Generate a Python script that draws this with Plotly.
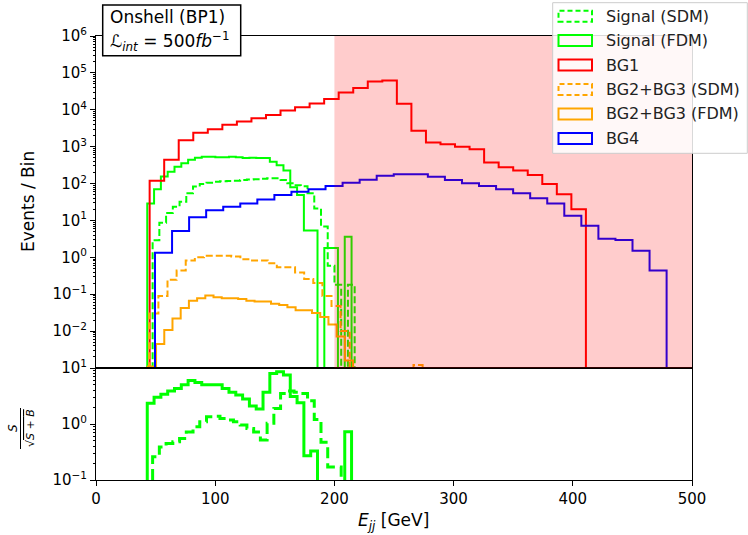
import numpy as np
import plotly.graph_objects as go

# ---------------- data (30 bins per histogram, own range each) ----------------
N_BINS = 30

sig_sdm_range = (47.5, 217.0)
sig_sdm = [2.9, 8.7, 16, 23.5, 32, 55, 83, 98, 105, 112, 115, 118, 120, 125, 128,
           130, 135, 139, 139, 125, 102, 90, 85, 55, 21, 6.8, 0.59, 0.18, 0, 0.18]

sig_fdm_range = (43.0, 214.4)
sig_fdm = [29, 70, 155, 210, 285, 355, 440, 500, 535, 535, 515, 515, 535, 515, 490,
           500, 490, 490, 390, 315, 225, 80, 49, 5.3, 5.3, 0, 1.8, 1.8, 0, 3.6]

bg1_range = (45.0, 411.0)
bg1 = [120, 440, 1500, 2400, 2950, 3900, 4800, 5900, 7200, 9600,
       11800, 14800, 19500, 29500, 39000, 58000, 62000, 14500, 2700, 1300,
       1170, 1000, 850, 370, 275, 225, 170, 98, 51, 20]

bg23_sdm_range = (44.7, 274.0)
bg23_sdm = [0.03, 0.089, 0.245, 0.44, 0.82, 1.0, 1.1, 1.1, 1.1, 1.05, 0.89, 0.82, 0.82,
            0.69, 0.54, 0.54, 0.39, 0.26, 0.20, 0.089, 0.048, 0.010, 0, 0, 0, 0, 0, 0,
            0, 0.0012]

bg23_fdm_range = (43.5, 250.1)
bg23_fdm = [0.0011, 0.0045, 0.0107, 0.022, 0.042, 0.067, 0.078, 0.092, 0.083, 0.078,
            0.078, 0.074, 0.067, 0.063, 0.063, 0.055, 0.051, 0.044, 0.037, 0.037,
            0.031, 0.024, 0.015, 0.0071, 0.0016, 0, 0, 0, 0, 0]

bg4_range = (49.5, 478.7)
bg4 = [1.34, 5.2, 12.2, 19, 23.5, 29, 37, 49, 60, 70, 86, 105, 127, 163, 178, 178,
       154, 125, 102, 86, 70, 55, 40, 29, 13.5, 7.2, 3.2, 2.96, 1.5, 0.44]

# S / sqrt(S+B) (signal binning)
ratio_sdm = [0.26, 0.39, 0.45, 0.48, 0.55, 0.72, 0.89, 1.1, 1.35, 1.38, 1.26, 1.18, 1.1,
             0.96, 0.83, 0.72, 0.52, 1.03, 1.9, 3.5, 3.9, 3.7, 3.5, 2.6, 1.2, 0.47,
             0.17, 0.17, 0, 0]
ratio_fdm = [2.35, 3.0, 3.4, 3.9, 4.3, 5.0, 6.0, 5.5, 5.0, 5.0, 5.0, 4.3, 3.7, 3.3, 2.8,
             2.1, 1.85, 3.7, 8.0, 8.6, 7.5, 3.1, 2.4, 0.27, 0.33, 0, 0.05, 0.05, 0, 0.73]

x_ticks = [0, 100, 200, 300, 400, 500]
top_decades = [-2, -1, 0, 1, 2, 3, 4, 5, 6]
bot_decades = [-1, 0, 1]
span_range = (200, 500)

legend_labels = ["Signal (SDM)", "Signal (FDM)", "BG1", "BG2+BG3 (SDM)",
                 "BG2+BG3 (FDM)", "BG4"]
legend_colors = ["#00ff00", "#00ff00", "#ff0000", "#ffa500", "#ffa500", "#0000ff"]
legend_dashed = [True, False, False, True, False, False]

# ---------------- helpers ----------------
FLOOR = 1e-9
FONT = "DejaVu Sans"


def step_xy(rng, vals):
    e = np.linspace(rng[0], rng[1], N_BINS + 1)
    v = [x if x > 0 else FLOOR for x in vals]
    xs = [e[0]] + list(e[:-1]) + [e[-1]]
    ys = [FLOOR] + v + [FLOOR]
    return xs, ys


def sup(d):
    s = str(d).replace("-", "\u2212")
    return "10<sup>" + s + "</sup>"


fig = go.Figure()

DASH_TOP = "7px,3px"
DASH_BOT = "11px,5px"

top_series = [
    (sig_sdm_range, sig_sdm, "#00ff00", DASH_TOP),
    (sig_fdm_range, sig_fdm, "#00ff00", None),
    (bg1_range, bg1, "#ff0000", None),
    (bg23_sdm_range, bg23_sdm, "#ffa500", DASH_TOP),
    (bg23_fdm_range, bg23_fdm, "#ffa500", None),
    (bg4_range, bg4, "#0000ff", None),
]
for rng, vals, col, dash in top_series:
    xs, ys = step_xy(rng, vals)
    line = dict(color=col, width=2, shape="hv")
    if dash:
        line["dash"] = dash
    fig.add_trace(go.Scatter(x=xs, y=ys, mode="lines", line=line,
                             showlegend=False, hoverinfo="skip",
                             xaxis="x", yaxis="y"))

for rng, vals, dash in [(sig_sdm_range, ratio_sdm, DASH_BOT), (sig_fdm_range, ratio_fdm, None)]:
    xs, ys = step_xy(rng, vals)
    line = dict(color="#00ff00", width=3, shape="hv")
    if dash:
        line["dash"] = dash
    fig.add_trace(go.Scatter(x=xs, y=ys, mode="lines", line=line,
                             showlegend=False, hoverinfo="skip",
                             xaxis="x2", yaxis="y2"))

# ---------------- layout ----------------
W, H = 748, 535
L, R, T, B = 96, 56, 36, 55
PW, PH = W - L - R, H - T - B
split = (480 - 368) / PH


def px(xp):
    return (xp - L) / PW


def py(yp):
    return (H - B - yp) / PH


tick_font = dict(family=FONT, size=15, color="black")
top_minor = [m * 10.0 ** d for d in range(-3, 6) for m in range(2, 10)]
bot_minor = [m * 10.0 ** d for d in range(-1, 1) for m in range(2, 10)]

axis_common = dict(showline=True, linecolor="black", linewidth=1, mirror=True,
                   showgrid=False, zeroline=False)

fig.update_layout(
    width=W, height=H,
    margin=dict(l=L, r=R, t=T, b=B),
    paper_bgcolor="white", plot_bgcolor="white",
    showlegend=False,
    xaxis=dict(domain=[0, 1], range=[0, 500], anchor="y", ticks="",
               showticklabels=False, **axis_common),
    yaxis=dict(domain=[split, 1], type="log", range=[-3, 6], anchor="x",
               tickmode="array", tickvals=[10.0 ** d for d in top_decades],
               ticktext=[sup(d) for d in top_decades],
               ticks="outside", ticklen=5, tickwidth=1, tickcolor="black",
               tickfont=tick_font,
               minor=dict(tickmode="array", tickvals=top_minor, ticks="outside",
                          ticklen=2.5, tickwidth=0.8, tickcolor="black"),
               **axis_common),
    xaxis2=dict(domain=[0, 1], range=[0, 500], anchor="y2", matches="x",
                tickmode="array", tickvals=x_ticks, ticktext=[str(v) for v in x_ticks],
                ticks="outside", ticklen=5, tickwidth=1, tickcolor="black",
                tickfont=tick_font, **axis_common),
    yaxis2=dict(domain=[0, split], type="log", range=[-1, 1], anchor="x2",
                tickmode="array", tickvals=[10.0 ** d for d in bot_decades],
                ticktext=[sup(d) for d in bot_decades],
                ticks="outside", ticklen=5, tickwidth=1, tickcolor="black",
                tickfont=tick_font,
                minor=dict(tickmode="array", tickvals=bot_minor, ticks="outside",
                           ticklen=2.5, tickwidth=0.8, tickcolor="black"),
                **axis_common),
)

shapes = []
# shaded signal region (drawn above the lines like the original)
shapes.append(dict(type="rect", xref="x", yref="y domain", x0=span_range[0], x1=span_range[1],
                   y0=0, y1=1, fillcolor="rgba(255,0,0,0.2)", line=dict(width=0),
                   layer="above"))
# title box
shapes.append(dict(type="rect", xref="paper", yref="paper",
                   x0=px(102.7), x1=px(240.7), y0=py(55.7), y1=py(5),
                   fillcolor="white", line=dict(color="black", width=1.5), layer="above"))
# legend frame
shapes.append(dict(type="rect", xref="paper", yref="paper",
                   x0=px(552.7), x1=px(747.3), y0=py(153.3), y1=py(2.7),
                   fillcolor="rgba(255,255,255,0.85)", line=dict(color="#cccccc", width=1),
                   layer="above"))
row_y = [16.2, 40.5, 65.0, 89.5, 114.0, 138.5]
for yy, col, dsh in zip(row_y, legend_colors, legend_dashed):
    ln = dict(color=col, width=2)
    if dsh:
        ln["dash"] = "5px,3px"
    shapes.append(dict(type="rect", xref="paper", yref="paper",
                       x0=px(558.5), x1=px(592.0), y0=py(yy + 5.5), y1=py(yy - 5.5),
                       fillcolor="rgba(0,0,0,0)", line=ln, layer="above"))
# fraction bar of the lower y-label
shapes.append(dict(type="line", xref="paper", yref="paper",
                   x0=px(20.5), x1=px(20.5), y0=py(449), y1=py(408),
                   line=dict(color="black", width=1), layer="above"))
fig.update_layout(shapes=shapes)

ann = []
for yy, lab in zip(row_y, legend_labels):
    ann.append(dict(xref="paper", yref="paper", x=px(604), y=py(yy), text=lab,
                    showarrow=False, xanchor="left", yanchor="middle",
                    font=dict(family=FONT, size=16, color="#222222")))
ann.append(dict(xref="paper", yref="paper", x=px(108), y=py(17.5), text="Onshell (BP1)",
                showarrow=False, xanchor="left", yanchor="middle",
                font=dict(family=FONT, size=17, color="black")))
ann.append(dict(xref="paper", yref="paper", x=px(108), y=py(41.5),
                text="<i>\u2112</i><sub><i>int</i></sub> = 500<i>fb</i><sup>\u22121</sup>",
                showarrow=False, xanchor="left", yanchor="middle",
                font=dict(family=FONT, size=17, color="black")))
ann.append(dict(xref="paper", yref="paper", x=px(28), y=py(202), text="Events / Bin",
                showarrow=False, textangle=-90, xanchor="center", yanchor="middle",
                font=dict(family=FONT, size=17, color="black")))
ann.append(dict(xref="paper", yref="paper", x=px(393.5), y=py(521),
                text="<i>E<sub>jj</sub></i> [GeV]",
                showarrow=False, xanchor="center", yanchor="middle",
                font=dict(family=FONT, size=17, color="black")))
ann.append(dict(xref="paper", yref="paper", x=px(13), y=py(428), text="<i>S</i>",
                showarrow=False, textangle=-90, xanchor="center", yanchor="middle",
                font=dict(family=FONT, size=12, color="black")))
ann.append(dict(xref="paper", yref="paper", x=px(30), y=py(428),
                text="\u221a<span style='text-decoration:overline'><i>S</i> + <i>B</i></span>",
                showarrow=False, textangle=-90, xanchor="center", yanchor="middle",
                font=dict(family=FONT, size=11, color="black")))
fig.update_layout(annotations=ann)

fig.write_html("out.html")
